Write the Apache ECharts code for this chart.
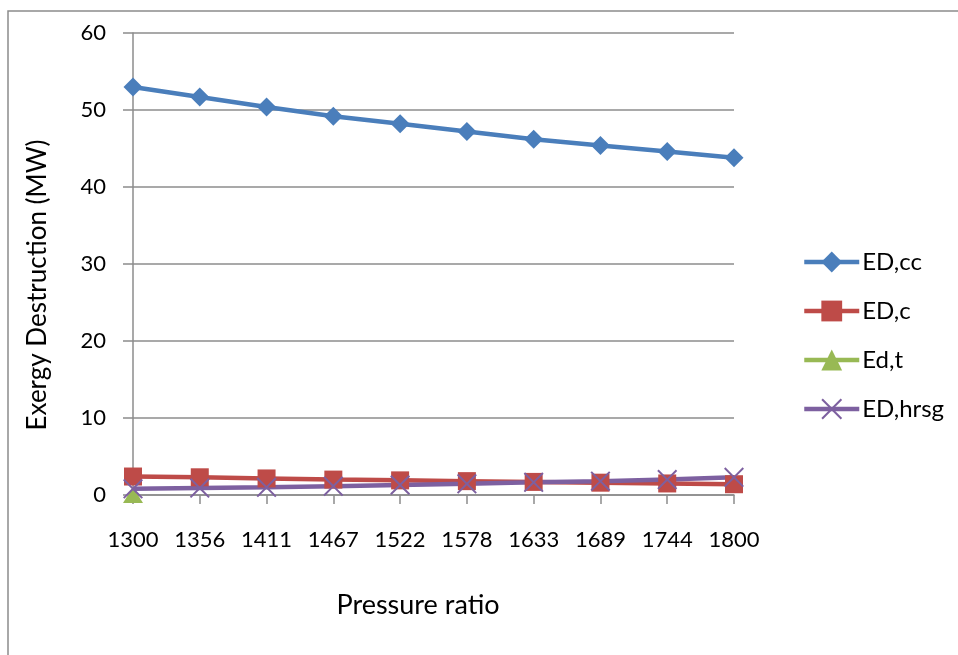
<!DOCTYPE html>
<html>
<head>
<meta charset="utf-8">
<script src="https://cdn.jsdelivr.net/npm/echarts@6/dist/echarts.min.js"></script>
<style>
  html, body { margin: 0; padding: 0; background: #fff; }
  #chart { width: 958px; height: 655px; }
</style>
</head>
<body>
<div id="chart"></div>
<script>
// Pressure ratio categories
const categories = ['1300', '1356', '1411', '1467', '1522', '1578', '1633', '1689', '1744', '1800'];

// Exergy destruction per component (MW)
const edCC = [53.0, 51.7, 50.4, 49.2, 48.2, 47.2, 46.2, 45.4, 44.6, 43.8];
const edC = [2.4, 2.3, 2.15, 2.0, 1.9, 1.8, 1.7, 1.6, 1.5, 1.4];
const edT = [0, null, null, null, null, null, null, null, null, null];
const edHRSG = [0.8, 0.9, 1.0, 1.15, 1.3, 1.45, 1.65, 1.8, 2.0, 2.3];

// Y axis ticks
const yMin = 0, yMax = 60, yStep = 10;

const FONT = 'Lato, "Noto Sans", sans-serif';
const GRID_COLOR = '#8c8c8c';

const crossPath = 'path://M0,1.4 L1.4,0 L10,8.6 L18.6,0 L20,1.4 L11.4,10 L20,18.6 L18.6,20 L10,11.4 L1.4,20 L0,18.6 L8.6,10 Z';

function lineSeries(name, data, color, symbol, size) {
  return {
    name: name,
    type: 'line',
    data: data,
    symbol: symbol,
    symbolSize: size,
    showAllSymbol: true,
    connectNulls: false,
    itemStyle: { color: color },
    lineStyle: { color: color, width: 4.5 },
    emphasis: { disabled: true }
  };
}

const chart = echarts.init(document.getElementById('chart'), null, { renderer: 'canvas' });

chart.setOption({
  animation: false,
  backgroundColor: '#ffffff',
  grid: { left: 133, right: 224, top: 33, bottom: 160, containLabel: false },
  xAxis: {
    type: 'category',
    data: categories,
    boundaryGap: false,
    axisLine: { lineStyle: { color: GRID_COLOR, width: 1.5 } },
    axisTick: { show: true, inside: false, length: 9, alignWithLabel: true, lineStyle: { color: GRID_COLOR, width: 1.5 } },
    axisLabel: { color: '#000', fontFamily: FONT, fontSize: 22, margin: 34 },
    splitLine: { show: false }
  },
  yAxis: {
    type: 'value',
    min: yMin,
    max: yMax,
    interval: yStep,
    axisLine: { show: true, lineStyle: { color: GRID_COLOR, width: 1.5 } },
    axisTick: { show: true, inside: false, length: 10, lineStyle: { color: GRID_COLOR, width: 1.5 } },
    axisLabel: { color: '#000', fontFamily: FONT, fontSize: 22, margin: 27 },
    splitLine: { show: true, lineStyle: { color: GRID_COLOR, width: 1.5 } }
  },
  legend: {
    orient: 'vertical',
    left: 802,
    top: 250,
    padding: 0,
    itemWidth: 55,
    itemHeight: 26,
    itemGap: 25,
    lineStyle: { width: 4.5 },
    textStyle: { color: '#000', fontFamily: FONT, fontSize: 24, padding: [0, 0, 0, -2] },
    data: ['ED,cc', 'ED,c', 'Ed,t', 'ED,hrsg']
  },
  graphic: [
    {
      type: 'rect',
      shape: { x: 8, y: 11, width: 1000, height: 700 },
      style: { fill: 'none', stroke: GRID_COLOR, lineWidth: 1.5 },
      silent: true
    },
    {
      type: 'text',
      x: 418,
      y: 605,
      style: { text: 'Pressure ratio', fill: '#000', font: '27px ' + FONT, textAlign: 'center', textVerticalAlign: 'middle' }
    },
    {
      type: 'text',
      x: 38,
      y: 285,
      rotation: Math.PI / 2,
      style: { text: 'Exergy Destruction (MW)', fill: '#000', font: '26px ' + FONT, textAlign: 'center', textVerticalAlign: 'middle' }
    }
  ],
  series: [
    lineSeries('ED,cc', edCC, '#4a7ebb', 'diamond', [19, 19]),
    lineSeries('ED,c', edC, '#be4b48', 'rect', [18, 18]),
    lineSeries('Ed,t', edT, '#98b954', 'triangle', [20, 16]),
    lineSeries('ED,hrsg', edHRSG, '#7d60a0', crossPath, [20, 20])
  ]
});
</script>
</body>
</html>
